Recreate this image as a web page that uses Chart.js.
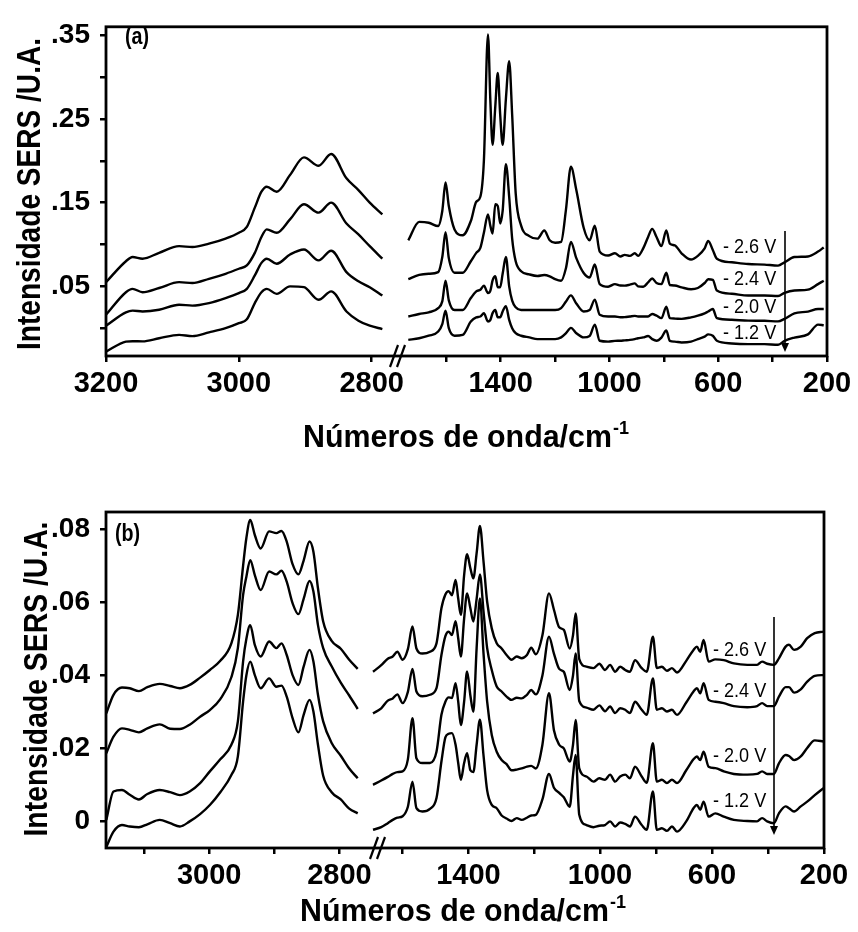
<!DOCTYPE html>
<html>
<head>
<meta charset="utf-8">
<script src="https://cdn.jsdelivr.net/npm/chart.js@4.4.1/dist/chart.umd.min.js"></script>
<style>
  body { margin: 0; background: #fff; }
  #wrap { position: relative; width: 858px; height: 932px; }
  canvas { position: absolute; left: 0; }
  #chartA { top: 0; }
  #chartB { top: 460px; }
</style>
</head>
<body>
<div id="wrap">
  <canvas id="chartA" width="858" height="460"></canvas>
  <canvas id="chartB" width="858" height="472"></canvas>
</div>
<script>
const FONT = "'Liberation Sans', Arial, sans-serif";

const seriesNames = ['- 2.6 V', '- 2.4 V', '- 2.0 V', '- 1.2 V'];

// ---- panel (a): C-H region
const waveA_hi = [3200, 3170, 3160, 3145, 3120, 3090, 3070, 3045, 3020, 3000, 2988, 2976, 2966, 2958, 2943, 2923, 2902, 2880, 2861, 2838, 2820, 2803, 2784];
const a26_hi = [0.055, 0.080, 0.085, 0.083, 0.090, 0.098, 0.097, 0.101, 0.107, 0.114, 0.121, 0.144, 0.163, 0.169, 0.163, 0.183, 0.204, 0.194, 0.208, 0.179, 0.165, 0.150, 0.136];
const a24_hi = [0.016, 0.043, 0.047, 0.043, 0.048, 0.055, 0.054, 0.059, 0.065, 0.071, 0.075, 0.090, 0.109, 0.118, 0.114, 0.130, 0.148, 0.138, 0.150, 0.125, 0.112, 0.098, 0.083];
const a20_hi = [0.003, 0.019, 0.021, 0.020, 0.022, 0.028, 0.027, 0.030, 0.036, 0.042, 0.047, 0.063, 0.078, 0.083, 0.077, 0.088, 0.094, 0.081, 0.0925, 0.067, 0.056, 0.049, 0.039];
const a12_hi = [-0.028, -0.016, -0.0155, -0.0157, -0.012, -0.008, -0.0095, -0.005, 0.000, 0.006, 0.0106, 0.030, 0.043, 0.047, 0.041, 0.050, 0.049, 0.034, 0.044, 0.020, 0.009, 0.003, -0.001];

// ---- panel (a): fingerprint region
const waveA_lo = [1740, 1700, 1665, 1630, 1615, 1603, 1591, 1570, 1540, 1510,
  1490, 1475, 1462, 1447, 1438, 1430, 1420, 1411, 1402, 1393,
  1381, 1369, 1358, 1345, 1325, 1295, 1265, 1240, 1220, 1200,
  1178, 1160, 1142, 1122, 1095, 1073, 1054, 1036, 1005, 980,
  960, 944, 925, 907, 895, 876, 858, 843, 827, 809,
  791, 778, 760, 735, 700, 675, 650, 637, 620, 605,
  550, 490, 430, 380, 356, 320, 270, 233, 212];
const a26_lo = [0.105, 0.127, 0.126, 0.122, 0.140, 0.174, 0.146, 0.118, 0.111, 0.128,
  0.151, 0.157, 0.200, 0.351, 0.270, 0.219, 0.265, 0.305, 0.255, 0.219,
  0.274, 0.319, 0.255, 0.161, 0.1225, 0.110, 0.107, 0.1167, 0.105, 0.102,
  0.103, 0.142, 0.193, 0.165, 0.120, 0.105, 0.1225, 0.0915, 0.0868, 0.0895,
  0.0857, 0.0876, 0.0864, 0.0895, 0.0864, 0.0953, 0.109, 0.1186, 0.109, 0.098,
  0.1167, 0.101, 0.099, 0.0895, 0.082, 0.0864, 0.0953, 0.1043, 0.0934, 0.083,
  0.0787, 0.0767, 0.076, 0.0748, 0.0787, 0.085, 0.0857, 0.0915, 0.0965];
const a24_lo = [0.0585, 0.0636, 0.065, 0.067, 0.085, 0.1147, 0.0837, 0.0663, 0.0663, 0.080,
  0.090, 0.096, 0.114, 0.136, 0.122, 0.113, 0.148, 0.146, 0.125, 0.140,
  0.196, 0.157, 0.107, 0.080, 0.068, 0.0643, 0.0624, 0.0636, 0.062, 0.0585,
  0.0566, 0.072, 0.103, 0.0837, 0.066, 0.0605, 0.076, 0.0527, 0.0496, 0.0527,
  0.051, 0.0508, 0.052, 0.0535, 0.050, 0.0495, 0.0547, 0.0593, 0.054, 0.0527,
  0.0663, 0.0516, 0.051, 0.0488, 0.0465, 0.048, 0.054, 0.0585, 0.0578, 0.045,
  0.0411, 0.039, 0.039, 0.0384, 0.0422, 0.045, 0.0461, 0.0527, 0.0566];
const a20_lo = [0.014, 0.017, 0.019, 0.024, 0.032, 0.0566, 0.0333, 0.0217, 0.0217, 0.036,
  0.044, 0.046, 0.0508, 0.042, 0.045, 0.057, 0.062, 0.049, 0.049, 0.065,
  0.085, 0.050, 0.033, 0.025, 0.0217, 0.0217, 0.0217, 0.0217, 0.0217, 0.0217,
  0.024, 0.032, 0.0392, 0.0295, 0.020, 0.0217, 0.0341, 0.016, 0.014, 0.014,
  0.013, 0.0132, 0.014, 0.0147, 0.014, 0.014, 0.014, 0.017, 0.015, 0.012,
  0.0256, 0.012, 0.0115, 0.0112, 0.013, 0.015, 0.0178, 0.020, 0.0229, 0.012,
  0.0101, 0.009, 0.0089, 0.0081, 0.0112, 0.0178, 0.0198, 0.0229, 0.0229];
const a12_lo = [-0.014, -0.012, -0.009, -0.004, 0.005, 0.0209, 0.000, -0.009, -0.008, 0.008,
  0.013, 0.014, 0.0178, 0.008, 0.010, 0.018, 0.0217, 0.013, 0.013, 0.020,
  0.0264, 0.010, 0.000, -0.006, -0.009, -0.011, -0.013, -0.013, -0.013, -0.013,
  -0.011, -0.006, 0.0004, -0.006, -0.011, -0.0093, 0.0043, -0.015, -0.016, -0.0151,
  -0.015, -0.0145, -0.014, -0.013, -0.012, -0.011, -0.0093, -0.013, -0.015, -0.0112,
  -0.0027, -0.0151, -0.016, -0.017, -0.016, -0.013, -0.010, -0.0074, -0.009, -0.015,
  -0.0182, -0.019, -0.019, -0.0198, -0.0151, -0.0112, -0.0074, 0.0043, 0.0035];

// ---- panel (b): C-H region
const waveB_hi = [3158, 3147, 3134, 3122, 3108, 3095, 3076, 3060, 3045, 3030,
  3014, 2999, 2983, 2966, 2956, 2948, 2943, 2937, 2930, 2921,
  2908, 2897, 2889, 2881, 2872, 2863, 2855, 2846, 2840, 2833,
  2825, 2812, 2798, 2785, 2772];
const b26_hi = [0.0296, 0.0347, 0.0367, 0.0365, 0.0357, 0.0368, 0.0377, 0.0371, 0.0365, 0.0374,
  0.0394, 0.0415, 0.0440, 0.0488, 0.0566, 0.070, 0.0776, 0.0826, 0.0785, 0.0748,
  0.0795, 0.079, 0.0796, 0.0767, 0.0705, 0.0677, 0.0715, 0.0767, 0.0739, 0.0639,
  0.0548, 0.0495, 0.0473, 0.0443, 0.0418];
const b24_hi = [0.0187, 0.0232, 0.0255, 0.0251, 0.0244, 0.0255, 0.0266, 0.0254, 0.0253, 0.0265,
  0.0287, 0.0305, 0.0335, 0.0395, 0.0475, 0.062, 0.067, 0.0716, 0.0675, 0.0634,
  0.0685, 0.0677, 0.0687, 0.0657, 0.0598, 0.0568, 0.061, 0.0659, 0.063, 0.0538,
  0.0475, 0.0425, 0.038, 0.0345, 0.0308];
const b20_hi = [0.0004, 0.0082, 0.0086, 0.0073, 0.006, 0.0075, 0.0086, 0.008, 0.0072, 0.0082,
  0.0105, 0.0137, 0.017, 0.021, 0.0274, 0.0438, 0.050, 0.0538, 0.0484, 0.0452,
  0.0493, 0.0475, 0.0488, 0.0456, 0.0401, 0.0374, 0.0424, 0.047, 0.0438, 0.0347,
  0.0274, 0.0215, 0.018, 0.0145, 0.0118];
const b12_hi = [-0.007, -0.0028, -0.001, -0.0014, -0.0016, -0.0008, 0.0004, -0.0005, -0.0014, 0.0,
  0.002, 0.0045, 0.008, 0.0127, 0.0178, 0.0328, 0.040, 0.0438, 0.0401, 0.0365,
  0.0392, 0.0369, 0.0372, 0.0342, 0.0283, 0.0244, 0.0292, 0.0333, 0.0301, 0.021,
  0.0125, 0.008, 0.006, 0.0035, 0.0022];

// ---- panel (b): fingerprint region
const waveB_lo = [1690, 1665, 1645, 1630, 1616, 1600, 1584, 1570, 1558, 1540,
  1517, 1497, 1482, 1470, 1460, 1450, 1439, 1431, 1423, 1413,
  1404, 1394, 1385, 1375, 1365, 1354, 1343, 1329, 1314, 1299,
  1284, 1269, 1253, 1238, 1222, 1209, 1195, 1175, 1155, 1140,
  1124, 1110, 1092, 1082, 1074, 1063, 1041, 1020, 1002, 982,
  964, 946, 928, 910, 893, 875, 851, 833, 811, 797,
  779, 761, 743, 725, 692, 666, 654, 642, 630, 612,
  588, 558, 522, 474, 439, 421, 403, 379, 361, 337,
  325, 307, 283, 260, 233, 202];
const b26_lo = [0.041, 0.0428, 0.0446, 0.0452, 0.0465, 0.0443, 0.0472, 0.0534, 0.0474, 0.046,
  0.0465, 0.0488, 0.0584, 0.0622, 0.0631, 0.062, 0.0662, 0.0611, 0.0566, 0.0675,
  0.0732, 0.0694, 0.0666, 0.0735, 0.081, 0.0712, 0.0602, 0.0529, 0.0488, 0.0474,
  0.0456, 0.0443, 0.0452, 0.0447, 0.0456, 0.0476, 0.0458, 0.051, 0.0625, 0.058,
  0.0532, 0.0525, 0.0474, 0.051, 0.057, 0.0445, 0.0424, 0.042, 0.0432, 0.0415,
  0.0429, 0.041, 0.0424, 0.0415, 0.041, 0.0442, 0.042, 0.041, 0.0506, 0.042,
  0.0424, 0.0413, 0.042, 0.0408, 0.044, 0.047, 0.0479, 0.0465, 0.0497, 0.0438,
  0.0444, 0.0442, 0.0433, 0.0429, 0.0429, 0.0438, 0.0432, 0.0429, 0.0447, 0.0479,
  0.0484, 0.047, 0.0479, 0.0502, 0.0516, 0.052];
const b24_lo = [0.0296, 0.031, 0.0331, 0.0337, 0.0348, 0.0324, 0.0355, 0.0418, 0.0356, 0.0343,
  0.0347, 0.0365, 0.0456, 0.0508, 0.052, 0.0511, 0.0549, 0.0502, 0.0452, 0.0556,
  0.0625, 0.0584, 0.0548, 0.061, 0.0677, 0.0575, 0.0475, 0.0415, 0.037, 0.0356,
  0.0342, 0.0333, 0.0339, 0.0337, 0.0347, 0.036, 0.0348, 0.040, 0.0506, 0.046,
  0.0418, 0.041, 0.036, 0.040, 0.046, 0.033, 0.0312, 0.0306, 0.0318, 0.0302,
  0.0315, 0.0297, 0.031, 0.0306, 0.0297, 0.0328, 0.0306, 0.0292, 0.0392, 0.0306,
  0.031, 0.0301, 0.0306, 0.0292, 0.0326, 0.0356, 0.0365, 0.0351, 0.0379, 0.0333,
  0.0328, 0.0324, 0.0316, 0.0313, 0.0316, 0.0324, 0.0316, 0.0316, 0.0342, 0.0368,
  0.0368, 0.0353, 0.0362, 0.0383, 0.0399, 0.0401];
const b20_lo = [0.010, 0.0112, 0.0122, 0.013, 0.0135, 0.0137, 0.017, 0.0283, 0.0173, 0.016,
  0.016, 0.0191, 0.0292, 0.0328, 0.034, 0.0338, 0.0379, 0.0328, 0.0264, 0.0328,
  0.0411, 0.0345, 0.030, 0.0475, 0.0611, 0.046, 0.0328, 0.0237, 0.0191, 0.0168,
  0.0157, 0.014, 0.0142, 0.0145, 0.015, 0.0152, 0.0145, 0.021, 0.0351, 0.025,
  0.021, 0.020, 0.0164, 0.021, 0.0278, 0.0145, 0.0123, 0.0109, 0.0118, 0.0114,
  0.0128, 0.0109, 0.0123, 0.0128, 0.0118, 0.015, 0.0123, 0.0106, 0.0214, 0.0109,
  0.0114, 0.0105, 0.0114, 0.0105, 0.014, 0.017, 0.0178, 0.0168, 0.0191, 0.015,
  0.0146, 0.0137, 0.013, 0.0128, 0.013, 0.0137, 0.013, 0.013, 0.0159, 0.0182,
  0.0179, 0.0168, 0.0178, 0.0201, 0.0222, 0.0219];
const b12_lo = [-0.0023, -0.0016, -0.0005, 0.0004, 0.001, 0.0014, 0.004, 0.0109, 0.0036, 0.0027,
  0.0034, 0.0064, 0.0164, 0.023, 0.024, 0.0242, 0.021, 0.016, 0.0114, 0.016,
  0.0187, 0.014, 0.0135, 0.021, 0.0279, 0.018, 0.0085, 0.0045, 0.0036, 0.0016,
  0.0008, 0.0001, 0.0009, 0.0004, 0.001, 0.0016, 0.0018, 0.006, 0.013, 0.0092,
  0.0078, 0.0066, 0.004, 0.0127, 0.0182, 0.0018, -0.001, -0.0016, -0.0012, -0.001,
  0.0, -0.0014, -0.0003, -0.0007, -0.0014, 0.0013, -0.001, -0.0023, 0.0082, -0.0023,
  -0.0019, -0.0026, -0.0014, -0.0028, 0.0, 0.0036, 0.0045, 0.0032, 0.0054, 0.0013,
  0.0022, 0.0013, 0.0004, 0.0001, 0.0, 0.0009, 0.0, -0.0005, 0.0022, 0.0041,
  0.0036, 0.0027, 0.0041, 0.0054, 0.0072, 0.0091];

// ---- ticks
const xTicksA = [3200, 3000, 2800, 1600, 1400, 1200, 1000, 800, 600, 400, 200];
const xLabelsA = ['3200', '3000', '2800', '', '1400', '', '1000', '', '600', '', '200'];
const yTicksA = [0, 0.05, 0.10, 0.15, 0.20, 0.25, 0.30, 0.35];
const yLabelsA = ['', '.05', '', '.15', '', '.25', '', '.35'];

const xTicksB = [3100, 3000, 2900, 2800, 1600, 1400, 1200, 1000, 800, 600, 400, 200];
const xLabelsB = ['', '3000', '', '2800', '', '1400', '', '1000', '', '600', '', '200'];
const yTicksB = [0, 0.02, 0.04, 0.06, 0.08];
const yLabelsB = ['0', '.02', '.04', '.06', '.08'];

// linear scale cut into pieces: each part is [fromValue, toValue, startFrac, endFrac]
class BrokenScale extends Chart.LinearScale {
  getPixelForValue(value) {
    const parts = this.options.parts;
    for (const p of parts) {
      const lo = Math.min(p[0], p[1]), hi = Math.max(p[0], p[1]);
      if (value >= lo - 1e-6 && value <= hi + 1e-6) {
        const f = p[2] + (value - p[0]) / (p[1] - p[0]) * (p[3] - p[2]);
        return this.left + f * this.width;
      }
    }
    return NaN;
  }
  getValueForPixel(pixel) {
    const f = (pixel - this.left) / this.width;
    for (const p of this.options.parts) {
      if (f >= p[2] && f <= p[3]) return p[0] + (f - p[2]) / (p[3] - p[2]) * (p[1] - p[0]);
    }
    return null;
  }
}
BrokenScale.id = 'broken';
BrokenScale.defaults = {};
Chart.register(BrokenScale);

// text squeezed horizontally, to get the condensed look of the original
function squeezed(ctx, text, x, y, font, sx) {
  ctx.save();
  ctx.translate(x, y);
  ctx.scale(sx, 1);
  ctx.font = font;
  ctx.fillText(text, 0, 0);
  ctx.restore();
}

function decorPlugin(d) {
  return {
    id: 'decor',
    afterDraw(chart) {
      const ctx = chart.ctx, a = chart.chartArea;
      ctx.save();
      ctx.strokeStyle = '#000';
      ctx.fillStyle = '#000';
      ctx.textBaseline = 'alphabetic';
      ctx.textAlign = 'left';
      // frame
      ctx.lineWidth = 2.8;
      ctx.strokeRect(a.left, a.top, a.right - a.left, a.bottom - a.top);
      // axis break marks
      ctx.lineWidth = 2.2;
      d.marks.forEach(mx => {
        ctx.beginPath();
        ctx.moveTo(mx - 4, a.bottom + 11);
        ctx.lineTo(mx + 4, a.bottom - 11);
        ctx.stroke();
      });
      // y title, fitted to its length
      const yt = 'Intensidade SERS /U.A.';
      ctx.font = 'bold 33px ' + FONT;
      const sy = d.yTitle[2] / ctx.measureText(yt).width;
      ctx.save();
      ctx.translate(d.yTitle[0], d.yTitle[1]);
      ctx.rotate(-Math.PI / 2);
      ctx.scale(sy, 1);
      ctx.textAlign = 'center';
      ctx.fillText(yt, 0, 0);
      ctx.restore();
      // x title with superscript
      const main = 'Números de onda/cm', sup = '-1';
      ctx.font = 'bold 32px ' + FONT;
      const wMain = ctx.measureText(main).width;
      ctx.font = 'bold 19px ' + FONT;
      const wSup = ctx.measureText(sup).width;
      const sx = d.xTitle[2] / (wMain + wSup);
      ctx.save();
      ctx.translate(d.xTitle[0], d.xTitle[1]);
      ctx.scale(sx, 1);
      ctx.font = 'bold 32px ' + FONT;
      ctx.fillText(main, 0, 0);
      ctx.font = 'bold 19px ' + FONT;
      ctx.fillText(sup, wMain + 1, -13);
      ctx.restore();
      // panel letter
      squeezed(ctx, d.letter, d.letterPos[0], d.letterPos[1], 'bold 24px ' + FONT, 0.82);
      // potential labels
      seriesNames.forEach((s, i) => squeezed(ctx, s, d.voltX, d.voltY[i], '21px ' + FONT, 0.86));
      // arrow
      ctx.lineWidth = 1.6;
      ctx.beginPath();
      ctx.moveTo(d.arrow[0], d.arrow[1]);
      ctx.lineTo(d.arrow[0], d.arrow[2] - 6);
      ctx.stroke();
      ctx.beginPath();
      ctx.moveTo(d.arrow[0] - 4, d.arrow[2] - 9);
      ctx.lineTo(d.arrow[0] + 4, d.arrow[2] - 9);
      ctx.lineTo(d.arrow[0], d.arrow[2]);
      ctx.closePath();
      ctx.fill();
      ctx.restore();
    }
  };
}

function makePanel(canvasId, p) {
  const datasets = [];
  p.series.forEach((vals, k) => {
    [[p.waveHi, vals[0]], [p.waveLo, vals[1]]].forEach(([wave, ys]) => {
      datasets.push({
        label: seriesNames[k],
        data: wave.map((w, i) => ({x: w, y: ys[i]})),
        borderColor: '#000',
        borderWidth: 2.4,
        pointRadius: 0,
        fill: false,
        cubicInterpolationMode: 'monotone'
      });
    });
  });
  const tickGrid = {display: true, drawOnChartArea: false, drawTicks: true, tickLength: 6, color: '#000', lineWidth: 2.5};
  return new Chart(document.getElementById(canvasId), {
    type: 'line',
    data: {datasets},
    options: {
      responsive: false,
      animation: false,
      devicePixelRatio: 1,
      events: [],
      layout: {padding: {top: p.padTop, right: p.padRight, bottom: 0, left: 0}},
      plugins: {legend: {display: false}, tooltip: {enabled: false}},
      scales: {
        x: {
          type: 'broken',
          parts: p.parts,
          min: 200,
          max: p.xMax,
          afterFit: s => { s.height = p.xAxisH; },
          afterBuildTicks: s => { s.ticks = p.xTicks.map(v => ({value: v})); },
          ticks: {autoSkip: false, maxRotation: 0, padding: 5, color: '#000',
            font: {family: FONT, size: 29, weight: 'bold'},
            callback: (v, i) => p.xLabels[i]},
          grid: tickGrid,
          border: {display: false}
        },
        y: {
          type: 'linear',
          min: p.yMin,
          max: p.yMax,
          afterFit: s => { s.width = 106; },
          afterBuildTicks: s => { s.ticks = p.yTicks.map(v => ({value: v})); },
          ticks: {autoSkip: false, padding: 10, color: '#000',
            font: {family: FONT, size: 28, weight: 'bold'},
            callback: (v, i) => p.yLabels[i]},
          grid: tickGrid,
          border: {display: false}
        }
      }
    },
    plugins: [decorPlugin(p.decor)]
  });
}

makePanel('chartA', {
  waveHi: waveA_hi, waveLo: waveA_lo,
  series: [[a26_hi, a26_lo], [a24_hi, a24_lo], [a20_hi, a20_lo], [a12_hi, a12_lo]],
  parts: [[3200, 2765, 0, 0.4008], [1789, 200, 0.4008, 1]],
  xMax: 3200, yMin: -0.0332, yMax: 0.360,
  xTicks: xTicksA, xLabels: xLabelsA, yTicks: yTicksA, yLabels: yLabelsA,
  padTop: 17, padRight: 31, xAxisH: 104,
  decor: {marks: [394, 401], yTitle: [40, 194, 312], xTitle: [303, 447, 325],
    letter: '(a)', letterPos: [125, 44], voltX: 723, voltY: [253, 285, 313, 339],
    arrow: [785, 231, 352]}
});

makePanel('chartB', {
  waveHi: waveB_hi, waveLo: waveB_lo,
  series: [[b26_hi, b26_lo], [b24_hi, b24_lo], [b20_hi, b20_lo], [b12_hi, b12_lo]],
  parts: [[3158.5, 2750, 0, 0.3705], [1693, 1000, 0.3705, 0.688], [1000, 200, 0.688, 1]],
  xMax: 3158.5, yMin: -0.0073, yMax: 0.0848,
  xTicks: xTicksB, xLabels: xLabelsB, yTicks: yTicksB, yLabels: yLabelsB,
  padTop: 52, padRight: 34, xAxisH: 84,
  decor: {marks: [374, 381], yTitle: [46.5, 219, 315], xTitle: [300, 461, 325],
    letter: '(b)', letterPos: [115, 81], voltX: 713, voltY: [196, 237, 302, 347],
    arrow: [774, 157, 375]}
});
</script>
</body>
</html>
